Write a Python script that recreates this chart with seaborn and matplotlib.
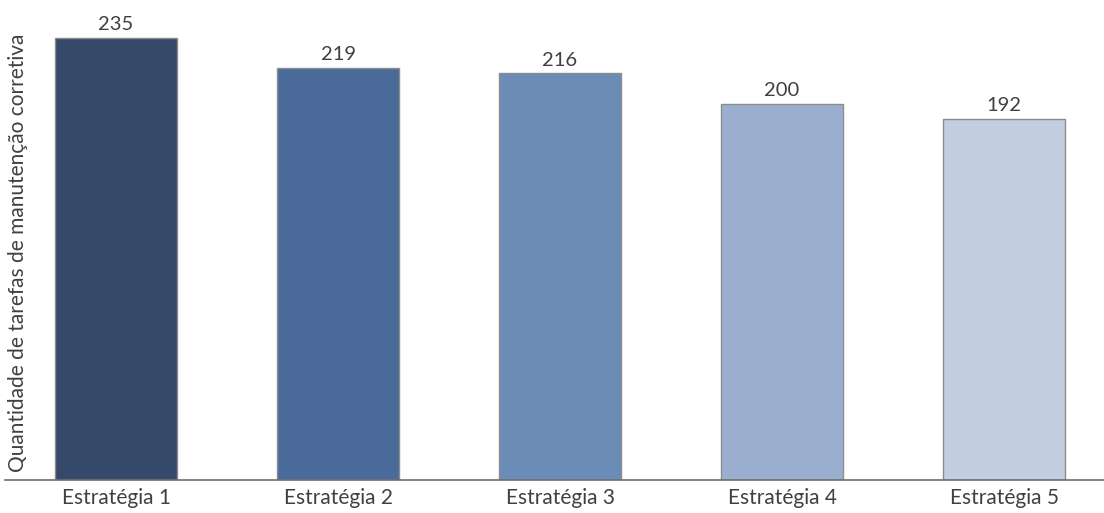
import matplotlib.pyplot as plt
import pandas as pd
import seaborn as sns

CATEGORIES = ["Estratégia 1", "Estratégia 2", "Estratégia 3", "Estratégia 4", "Estratégia 5"]
VALUES = [235, 219, 216, 200, 192]
COLORS = ["#35496a", "#4a6a9a", "#6c8cb8", "#9aafcf", "#c3cee0"]
Y_LABEL = "Quantidade de tarefas de manutenção corretiva"
TEXT_COLOR = "#404040"


def main() -> None:
    df = pd.DataFrame({"estrategia": CATEGORIES, "valor": VALUES})

    sns.set_theme(style="white")
    plt.rcParams["font.family"] = ["Lato", "DejaVu Sans"]

    fig = plt.figure(figsize=(11.04, 5.13), dpi=100)
    ax = fig.add_axes([5 / 1104, 1 - 480 / 513, 1 - 5 / 1104, 480 / 513])

    sns.barplot(
        data=df,
        x="estrategia",
        y="valor",
        hue="estrategia",
        palette=COLORS,
        width=0.55,
        edgecolor="#8c8c8c",
        linewidth=1.0,
        legend=False,
        saturation=1,
        ax=ax,
    )

    ax.set_ylim(0, 255)
    ax.set_xlim(-0.5, 4.45)
    ax.set_yticks([])
    ax.set_xlabel("")
    ax.set_ylabel(Y_LABEL, fontsize=15, color=TEXT_COLOR)
    ax.yaxis.set_label_coords(0.021, 0.473)
    ax.tick_params(axis="x", length=0, labelsize=15, labelcolor=TEXT_COLOR, pad=6)

    for patch, v in zip(ax.patches, VALUES):
        ax.text(
            patch.get_x() + patch.get_width() / 2,
            v + 2.5,
            f"{v}",
            ha="center",
            va="bottom",
            fontsize=14.5,
            color=TEXT_COLOR,
        )

    for side in ["top", "right", "left"]:
        ax.spines[side].set_visible(False)
    ax.spines["bottom"].set_color("#6e6e6e")
    ax.spines["bottom"].set_linewidth(1.2)

    fig.savefig("out.png", dpi=100)


if __name__ == "__main__":
    main()
